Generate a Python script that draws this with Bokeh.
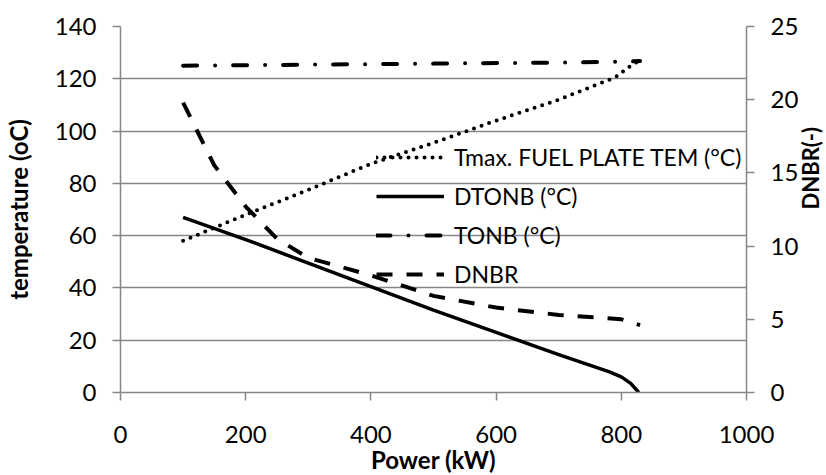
import math
from bokeh.plotting import figure
from bokeh.models import Range1d, LinearAxis, FixedTicker, Legend, LegendItem
from bokeh.embed import file_html
from bokeh.resources import INLINE

# ---- data ----
power_tmax = [100, 200, 300, 400, 500, 600, 700, 790, 815, 830]
tmax = [58, 68, 77.5, 87.5, 95.5, 104, 112, 120.5, 125, 127]

power_dtonb = [100, 200, 300, 400, 500, 600, 700, 780, 800, 815, 828]
dtonb = [67, 58.5, 49.5, 40.5, 31.5, 23, 14.5, 8, 6, 3.5, 0]

power_tonb = [100, 200, 300, 400, 500, 600, 700, 800, 830]
tonb = [125, 125.2, 125.4, 125.6, 125.8, 126, 126.2, 126.5, 126.8]

power_dnbr = [100, 150, 200, 250, 300, 400, 500, 600, 700, 800, 830]
dnbr = [19.8, 15.5, 12.7, 10.5, 9.2, 8.0, 6.6, 5.8, 5.3, 5.0, 4.6]

x_ticks = [0, 200, 400, 600, 800, 1000]
y_ticks = [0, 20, 40, 60, 80, 100, 120, 140]
y2_ticks = [0, 5, 10, 15, 20, 25]

labels = ["Tmax. FUEL PLATE TEM (°C)", "DTONB (°C)", "TONB (°C)", "DNBR"]

FONT = "Lato"
GRID = "#868686"

p = figure(frame_width=626, frame_height=366, output_backend="svg", toolbar_location=None,
           x_range=Range1d(0, 1000), y_range=Range1d(0, 140),
           min_border_left=114, min_border_right=0, min_border_top=26, min_border_bottom=0)
p.extra_y_ranges = {"dnbr": Range1d(0, 25)}
p.outline_line_color = None
p.background_fill_color = "white"

p.xgrid.visible = False
p.ygrid.ticker = FixedTicker(ticks=y_ticks)
p.ygrid.grid_line_color = GRID
p.ygrid.grid_line_width = 1.5

def style_axis(ax, label_size="24px"):
    ax.axis_line_color = GRID
    ax.axis_line_width = 1.5
    ax.major_tick_line_color = GRID
    ax.major_tick_line_width = 1.5
    ax.major_tick_out = 8
    ax.major_tick_in = 0
    ax.minor_tick_line_color = None
    ax.major_label_text_font = FONT
    ax.major_label_text_font_size = "24px"
    ax.major_label_text_color = "black"
    ax.axis_label_text_font = FONT
    ax.axis_label_text_font_size = label_size
    ax.axis_label_text_font_style = "bold"
    ax.axis_label_text_color = "black"

xa = p.xaxis[0]
style_axis(xa)
xa.ticker = FixedTicker(ticks=x_ticks)
xa.axis_label = "Power (kW)"
xa.major_label_standoff = 25
xa.axis_label_standoff = -1

ya = p.yaxis[0]
style_axis(ya)
ya.ticker = FixedTicker(ticks=y_ticks)
ya.axis_label = "temperature (oC)"
ya.major_label_standoff = 16
ya.axis_label_standoff = 19

ra = LinearAxis(y_range_name="dnbr")
style_axis(ra, "22px")
ra.ticker = FixedTicker(ticks=y2_ticks)
ra.major_label_standoff = 16
ra.axis_label = "DNBR(-)"
ra.axis_label_standoff = 9
if "axis_label_orientation" in ra.properties():
    ra.axis_label_orientation = math.pi / 2
p.add_layout(ra, "right")

r_tmax = p.line(power_tmax, tmax, line_color="black", line_width=4,
                line_dash="0 8", line_cap="round")
r_dtonb = p.line(power_dtonb, dtonb, line_color="black", line_width=3.5,
                 line_join="round")
r_tonb = p.line(power_tonb, tonb, line_color="black", line_width=4,
                line_dash="14 18 0 18", line_cap="round")
r_dnbr = p.line(power_dnbr, dnbr, y_range_name="dnbr", line_color="black",
                line_width=4, line_dash="16 14", line_cap="butt")

legend = Legend(items=[LegendItem(label=labels[0], renderers=[r_tmax]),
                       LegendItem(label=labels[1], renderers=[r_dtonb]),
                       LegendItem(label=labels[2], renderers=[r_tonb]),
                       LegendItem(label=labels[3], renderers=[r_dnbr])],
                location=(256, 104))
legend.background_fill_alpha = 0
legend.border_line_color = None
legend.label_text_font = FONT
legend.label_text_font_size = "23px"
legend.label_text_color = "black"
legend.glyph_width = 68
legend.glyph_height = 20
legend.label_height = 20
legend.spacing = 11
legend.padding = 0
legend.margin = 0
legend.label_standoff = 10
p.add_layout(legend, "center")

open("out.html", "w").write(file_html(p, INLINE))
